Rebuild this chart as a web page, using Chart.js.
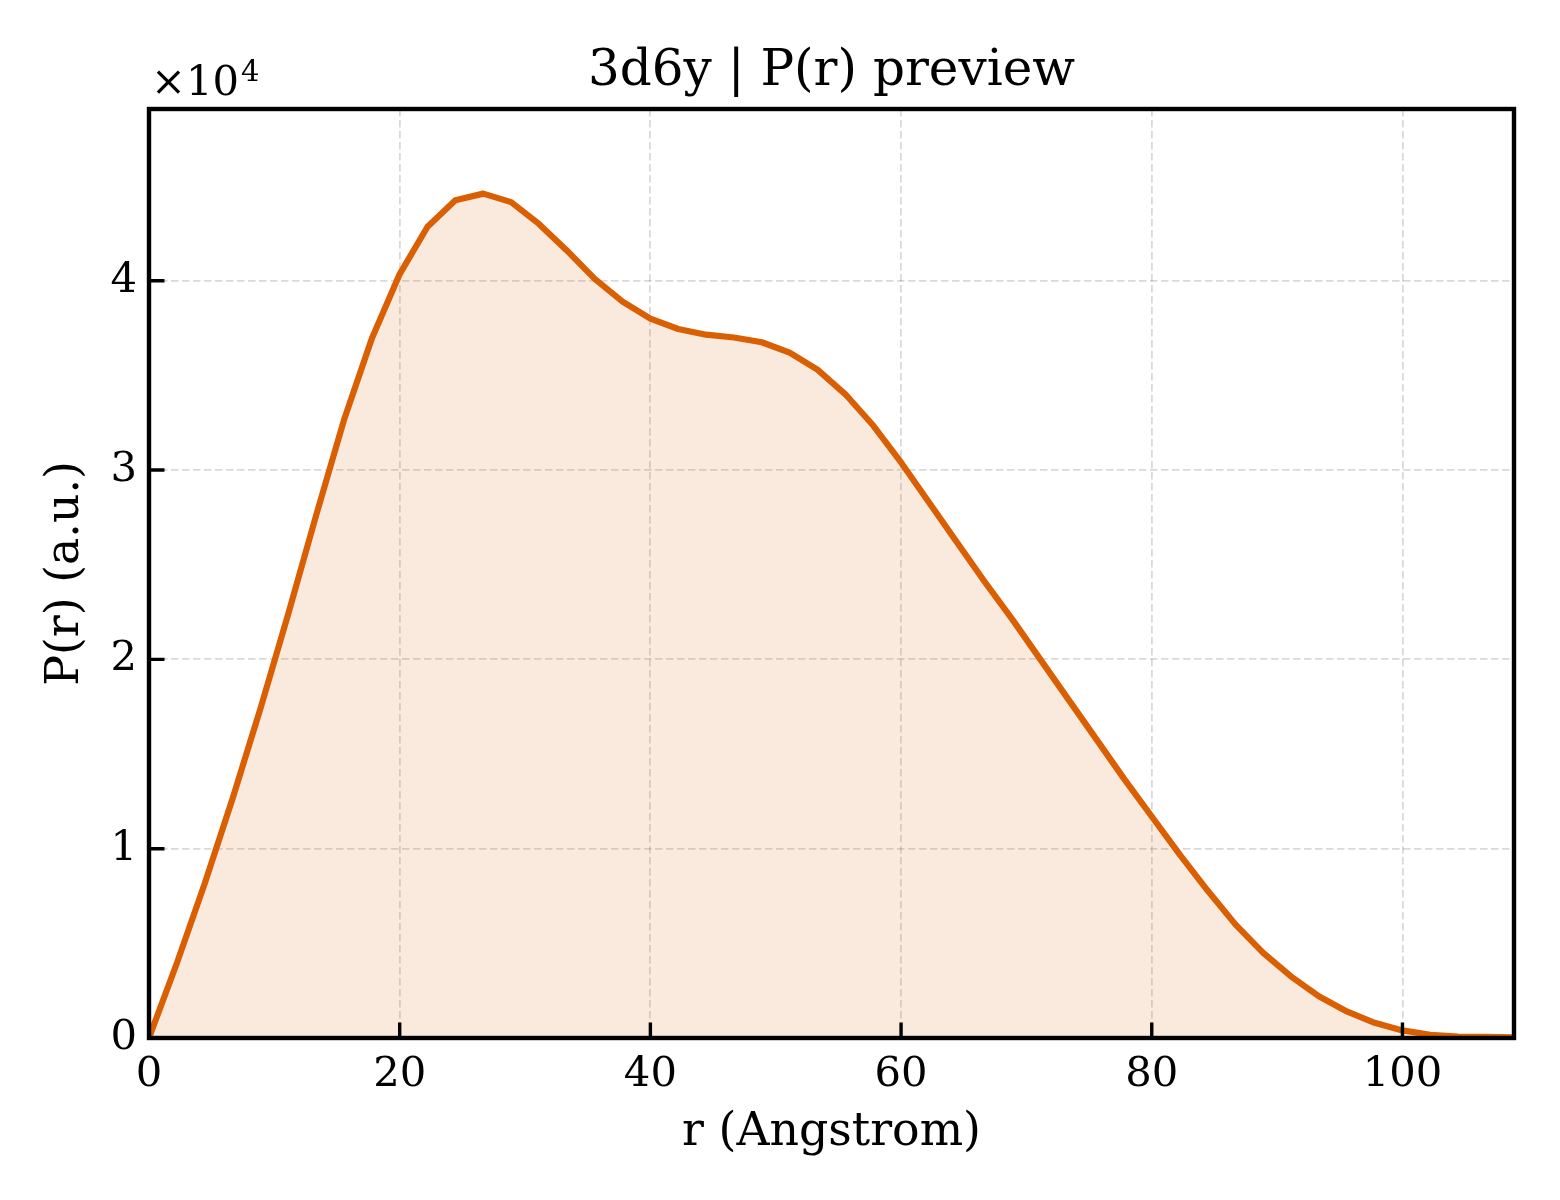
<!DOCTYPE html>
<html><head><meta charset="utf-8">
<script src="https://cdn.jsdelivr.net/npm/chart.js@4.4.1/dist/chart.umd.min.js"></script>
<style>html,body{margin:0;padding:0;background:#fff}</style>
</head><body>
<canvas id="c" width="1560" height="1200" style="width:1560px;height:1200px;display:block"></canvas>
<script>
const chartTitle = '3d6y | P(r) preview';
const xLabel = 'r (Angstrom)';
const yLabel = 'P(r) (a.u.)';
const rValues = [0, 2.22, 4.44, 6.67, 8.89, 11.11, 13.33, 15.56, 17.78, 20.0,
  22.22, 24.44, 26.67, 28.89, 31.11, 33.33, 35.56, 37.78, 40.0, 42.22,
  44.44, 46.67, 48.89, 51.11, 53.33, 55.56, 57.78, 60.0, 62.22, 64.44,
  66.67, 68.89, 71.11, 73.33, 75.56, 77.78, 80.0, 82.22, 84.44, 86.67,
  88.89, 91.11, 93.33, 95.56, 97.78, 100.0, 102.22, 104.44, 106.67, 108.89];
const pValues = [0, 3950, 8150, 12650, 17400, 22400, 27600, 32650, 36950, 40350,
  42850, 44250, 44600, 44150, 43000, 41600, 40100, 38900, 38000, 37450,
  37150, 37000, 36750, 36200, 35300, 34000, 32350, 30400, 28300, 26200,
  24100, 22100, 20000, 17900, 15800, 13700, 11700, 9700, 7800, 6000,
  4500, 3250, 2200, 1400, 800, 400, 170, 80, 60, 40];
const xTicks = [0, 20, 40, 60, 80, 100];
const yTicks = [0, 10000, 20000, 30000, 40000];
const xMax = 108.9;
const yMax = 49070;
const exponent = 4;

const lineColor = '#d95f02';
const fillColor = 'rgba(217,95,2,0.13)';
const FONT = '"DejaVu Serif", serif';

const points = rValues.map((r, i) => ({x: r, y: pValues[i]}));

const decor = {
  id: 'decor',
  afterDraw(chart) {
    const {ctx, chartArea: a, scales: {x, y}} = chart;
    ctx.save();
    ctx.strokeStyle = '#000';
    ctx.lineWidth = 3.4;
    ctx.beginPath();
    xTicks.forEach(v => {
      const px = x.getPixelForValue(v);
      ctx.moveTo(px, a.bottom);
      ctx.lineTo(px, a.bottom - 15.5);
    });
    yTicks.forEach(v => {
      const py = y.getPixelForValue(v);
      ctx.moveTo(a.left, py);
      ctx.lineTo(a.left + 15.5, py);
    });
    ctx.stroke();
    ctx.lineWidth = 4.4;
    ctx.strokeRect(a.left, a.top, a.right - a.left, a.bottom - a.top);
    ctx.fillStyle = '#000';
    ctx.textBaseline = 'alphabetic';
    ctx.textAlign = 'center';
    ctx.font = '50px ' + FONT;
    ctx.fillText(chartTitle, (a.left + a.right) / 2, 85);
    ctx.textAlign = 'left';
    ctx.font = '41.7px ' + FONT;
    const base = '\u00d710';
    ctx.fillText(base, a.left + 2, 95);
    const w = ctx.measureText(base).width;
    ctx.font = '29px ' + FONT;
    ctx.fillText(String(exponent), a.left + 2 + w + 2, 81);
    ctx.restore();
  }
};

new Chart(document.getElementById('c'), {
  type: 'line',
  data: {
    datasets: [{
      data: points,
      borderColor: lineColor,
      backgroundColor: fillColor,
      borderWidth: 6.2,
      fill: 'origin',
      tension: 0,
      pointRadius: 0,
      borderJoinStyle: 'round',
      borderCapStyle: 'round'
    }]
  },
  options: {
    responsive: false,
    devicePixelRatio: 1,
    animation: false,
    layout: {padding: {left: 0, right: 46, top: 109, bottom: 0}},
    plugins: {legend: {display: false}, title: {display: false}, tooltip: {enabled: false}},
    scales: {
      x: {
        type: 'linear',
        min: 0, max: xMax,
        afterBuildTicks: s => { s.ticks = xTicks.map(v => ({value: v})); },
        afterFit: s => { s.height = 162; },
        ticks: {
          color: '#000', padding: 12, maxRotation: 0,
          font: {family: FONT, size: 41.7},
          callback: v => String(v)
        },
        grid: {color: 'rgba(0,0,0,0.15)', lineWidth: 1.8, drawTicks: false},
        border: {display: false, dash: [7.5, 3.5]},
        title: {display: true, text: xLabel, color: '#000',
          font: {family: FONT, size: 45.8, lineHeight: 1.2}, padding: {top: 0, bottom: 39}}
      },
      y: {
        type: 'linear',
        min: 0, max: yMax,
        afterBuildTicks: s => { s.ticks = yTicks.map(v => ({value: v})); },
        afterFit: s => { s.width = 149; },
        ticks: {
          color: '#000', padding: 12,
          font: {family: FONT, size: 41.7},
          callback: v => String(Math.round(v / Math.pow(10, exponent)))
        },
        grid: {color: 'rgba(0,0,0,0.15)', lineWidth: 1.8, drawTicks: false},
        border: {display: false, dash: [7.5, 3.5]},
        title: {display: true, text: yLabel, color: '#000',
          font: {family: FONT, size: 45.8, lineHeight: 1.2}, padding: {top: 39, bottom: 0}}
      }
    }
  },
  plugins: [decor]
});
</script>
</body></html>
